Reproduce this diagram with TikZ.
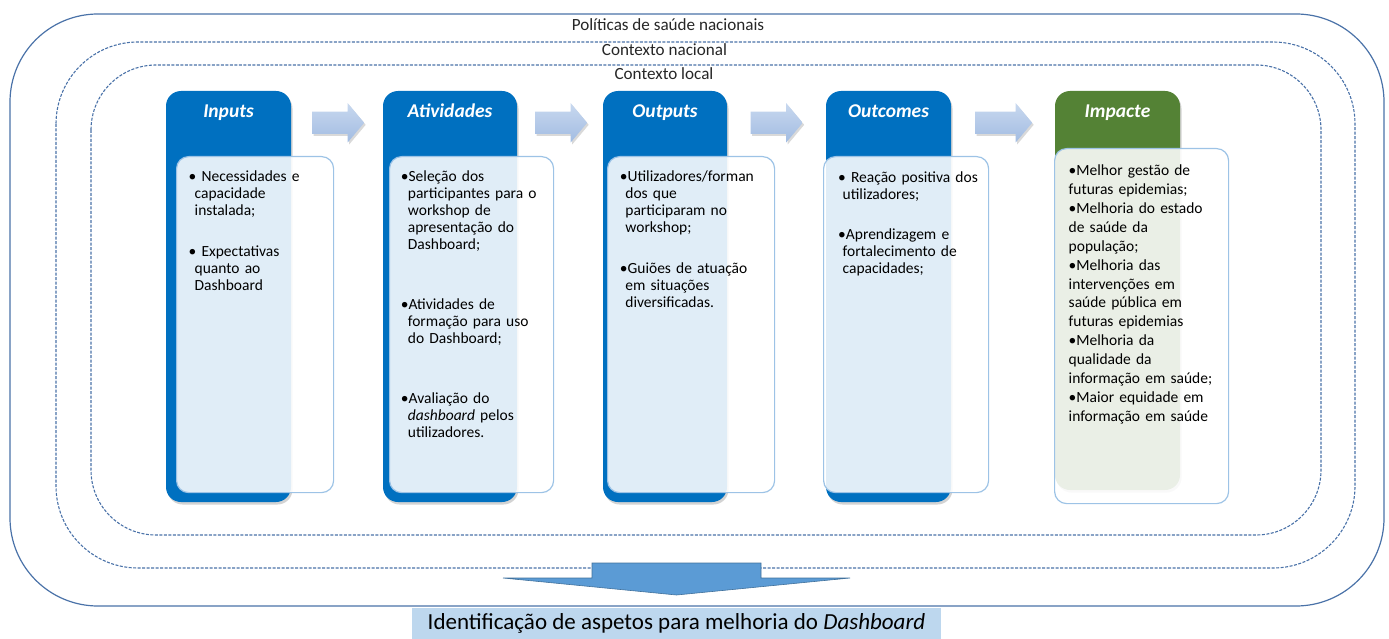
\documentclass[tikz,border=0pt]{standalone}
\usepackage{fontspec}
\setmainfont{Carlito}
\usetikzlibrary{shapes.arrows,shadows,calc,positioning}

\definecolor{headblue}{HTML}{0070C0}
\definecolor{headgreen}{HTML}{548235}
\definecolor{frameblue}{HTML}{4A72A8}
\definecolor{boxline}{HTML}{9DC3E6}
\definecolor{arrowtop}{HTML}{C8D8EF}
\definecolor{arrowbot}{HTML}{A2BCE2}
\definecolor{bigarrow}{HTML}{5B9BD5}
\definecolor{bigarrowline}{HTML}{41719C}
\definecolor{resultfill}{HTML}{BDD7EE}

\tikzset{
  ctxframe/.style={frameblue, line width=1.2pt},
  dashframe/.style={frameblue, line width=1.1pt, dash pattern=on 3pt off 1.5pt},
  ctxlabel/.style={inner sep=0, text=black!85, font=\fontsize{17.1}{20}\selectfont},
  headbox/.style={rectangle, rounded corners=15pt, fill=headblue, inner sep=0,
    minimum width=125pt, minimum height=411pt,
    drop shadow={shadow xshift=1.5pt, shadow yshift=-2.5pt, opacity=0.35}},
  headtitle/.style={inner sep=0, anchor=base, text=white, font=\fontsize{19.5}{23}\selectfont\bfseries\itshape},
  txtbox/.style={rectangle, rounded corners=12pt, draw=boxline, line width=1.2pt,
    fill=white, fill opacity=0.88, anchor=north west, inner sep=0, minimum height=336pt},
  txt/.style={anchor=base west, inner sep=0, text width=175pt, align=left,
    font=\fontsize{15.5}{17}\selectfont},
  blockarrow/.style={single arrow, single arrow head extend=8.5pt, single arrow tip angle=100,
    inner xsep=0, inner ysep=11pt, minimum height=52pt, anchor=tail,
    top color=arrowtop, bottom color=arrowbot,
    drop shadow={shadow xshift=1.5pt, shadow yshift=-2pt, opacity=0.3}},
  resultbox/.style={rectangle, fill=resultfill, inner sep=0, minimum width=529pt,
    minimum height=31pt, font=\fontsize{23}{26}\selectfont}
}

\begin{document}
\begin{tikzpicture}[x=1pt, y=-1pt]
  \useasboundingbox (0,0) rectangle (1389,639);

  % context frames
  \draw[ctxframe, rounded corners=88pt] (10,14) rectangle (1384,606);
  \draw[dashframe, rounded corners=82pt] (56,42) rectangle (1355,568);
  \draw[dashframe, rounded corners=65pt] (91,65) rectangle (1321,535);
  \node[ctxlabel] (politicas) at (668,25) {Políticas de saúde nacionais};
  \node[ctxlabel] (nacional) at (664.5,50) {Contexto nacional};
  \node[ctxlabel] (local) at (664,74) {Contexto local};

  % column heads
  \node[headbox] (inputs) at (228.5,296.5) {};
  \node[headbox, minimum width=134pt] (atividades) at (450,296.5) {};
  \node[headbox, minimum width=124pt] (outputs) at (665,296.5) {};
  \node[headbox] (outcomes) at (888.5,296.5) {};
  \node[headbox, fill=headgreen, minimum height=399pt] (impacte) at (1117.5,290.5) {};
  \node[headtitle] (inputs-t) at ($(inputs.north)+(0,27)$) {Inputs};
  \node[headtitle] (atividades-t) at ($(atividades.north)+(0,27)$) {Atividades};
  \node[headtitle] (outputs-t) at ($(outputs.north)+(0,27)$) {Outputs};
  \node[headtitle] (outcomes-t) at ($(outcomes.north)+(0,27)$) {Outcomes};
  \node[headtitle] (impacte-t) at ($(impacte.north)+(0,27)$) {Impacte};

  % arrows between heads
  \node[blockarrow] (arr1) at ($(inputs.north east)!0.5!(atividades.north west)+(-25,32)$) {};
  \node[blockarrow] (arr2) at ($(atividades.north east)!0.5!(outputs.north west)+(-25,32)$) {};
  \node[blockarrow] (arr3) at ($(outputs.north east)!0.5!(outcomes.north west)+(-26,32)$) {};
  \node[blockarrow, minimum height=57pt] (arr4) at ($(outcomes.north east)!0.5!(impacte.north west)+(-28,32)$) {};

  % text boxes
  \node[txtbox, minimum width=157pt] (inputs-box) at (176,156) {};
  \node[txtbox, minimum width=164pt] (atividades-box) at (389,156) {};
  \node[txtbox, minimum width=167pt] (outputs-box) at (607,156) {};
  \node[txtbox, minimum width=165pt] (outcomes-box) at (823,156) {};
  \node[txtbox, minimum width=174pt, minimum height=355pt] (impacte-box) at (1054,148) {};

  \node[txt] (inputs-txt) at ($(inputs-box.north west)+(12.5,25.7)$)
    {\textbullet\ Necessidades e\\
     \hspace*{6pt}capacidade\\
     \hspace*{6pt}instalada;\\[23.7pt]
     \textbullet\ Expectativas\\
     \hspace*{6pt}quanto ao\\
     \hspace*{6pt}Dashboard};
  \node[txt] (atividades-txt) at ($(atividades-box.north west)+(11.7,25.7)$)
    {\textbullet Seleção dos\\
     \hspace*{7pt}participantes para o\\
     \hspace*{7pt}workshop de\\
     \hspace*{7pt}apresentação do\\
     \hspace*{7pt}Dashboard;\\[42.8pt]
     \textbullet Atividades de\\
     \hspace*{7pt}formação para uso\\
     \hspace*{7pt}do Dashboard;\\[42.8pt]
     \textbullet Avaliação do\\
     \hspace*{7pt}\textit{dashboard} pelos\\
     \hspace*{7pt}utilizadores.};
  \node[txt] (outputs-txt) at ($(outputs-box.north west)+(12.7,25.7)$)
    {\textbullet Utilizadores/forman\\
     \hspace*{5.5pt}dos que\\
     \hspace*{5.5pt}participaram no\\
     \hspace*{5.5pt}workshop;\\[23.7pt]
     \textbullet Guiões de atuação\\
     \hspace*{5.5pt}em situações\\
     \hspace*{5.5pt}diversificadas.};
  \node[txt] (outcomes-txt) at ($(outcomes-box.north west)+(15,26.3)$)
    {\textbullet\ Reação positiva dos\\
     \hspace*{4.5pt}utilizadores;\\[23pt]
     \textbullet Aprendizagem e\\
     \hspace*{4.5pt}fortalecimento de\\
     \hspace*{4.5pt}capacidades;};
  \node[txt, font=\fontsize{15.5}{18.9}\selectfont] (impacte-txt) at ($(impacte-box.north west)+(14.5,27.7)$)
    {\textbullet Melhor gestão de\\
     futuras epidemias;\\
     \textbullet Melhoria do estado\\
     de saúde da\\
     população;\\
     \textbullet Melhoria das\\
     intervenções em\\
     saúde pública em\\
     futuras epidemias\\
     \textbullet Melhoria da\\
     qualidade da\\
     informação em saúde;\\
     \textbullet Maior equidade em\\
     informação em saúde};

  % result
  \draw[fill=bigarrow, draw=bigarrowline, line width=0.6pt]
    (592,563) -- (761,563) -- (761,578) -- (850,578) -- (676.5,595)
    -- (503,578) -- (592,578) -- cycle;
  \node[resultbox] (melhoria) at (676.5,623.5) {Identificação de aspetos para melhoria do \textit{Dashboard}};
\end{tikzpicture}
\end{document}
